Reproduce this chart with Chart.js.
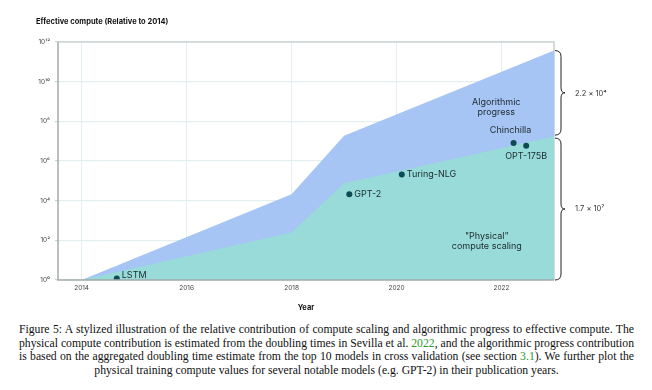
<!DOCTYPE html>
<html>
<head>
<meta charset="utf-8">
<script src="https://cdn.jsdelivr.net/npm/chart.js@4/dist/chart.umd.min.js"></script>
<style>
  body { margin: 0; background: #fff; width: 652px; height: 390px; overflow: hidden; position: relative; }
  #wrap { position: absolute; left: 0; top: 0; width: 652px; height: 316px; }
  #caption { position: absolute; left: 19px; top: 323px; width: 615px;
             font-family: "Liberation Serif", "Times New Roman", serif; font-size: 11.7px; line-height: 13.6px; color: #111; }
  #caption div { text-align: justify; text-align-last: justify; }
  #caption div.last { text-align: center; text-align-last: center; }
  .g { color: #2f9a2f; }
</style>
</head>
<body>
<div id="wrap"><canvas id="grafico"></canvas></div>
<div id="caption">
  <div>Figure 5: A stylized illustration of the relative contribution of compute scaling and algorithmic progress to effective compute. The</div>
  <div>physical compute contribution is estimated from the doubling times in Sevilla et al. <span class="g">2022</span>, and the algorithmic progress contribution</div>
  <div>is based on the aggregated doubling time estimate from the top 10 models in cross validation (see section <span class="g">3.1</span>). We further plot the</div>
  <div class="last">physical training compute values for several notable models (e.g. GPT-2) in their publication years.</div>
</div>
<script>
// Dados (escala log, relativo a 2014)
const anos = [2014, 2018, 2019, 2023];
const computeEfetivo = [1, 2.1e4, 1.9e7, 3.7e11];
const computeFisico = [1, 250, 7.6e4, 1.7e7];

const modelos = ["LSTM", "GPT-2", "Turing-NLG", "Chinchilla", "OPT-175B"];
const anosModelos = [2014.67, 2019.1, 2020.1, 2022.23, 2022.47];
const computeModelos = [1.2, 2.1e4, 2.1e5, 8.1e6, 5.9e6];

const anosTicks = [2014, 2016, 2018, 2020, 2022];
const ticksY = [1, 1e2, 1e4, 1e6, 1e8, 1e10, 1e12];
const rotulosY = ["10⁰", "10²", "10⁴", "10⁶", "10⁸", "10¹⁰", "10¹²"];

const rotuloAlgoritmo = ["Algorithmic", "progress"];
const rotuloFisico = ["\"Physical\"", "compute scaling"];
const rotulosChaves = ["2.2 × 10⁴", "1.7 × 10⁷"];

const fonte = "Inter, 'Noto Sans', sans-serif";

// desenha a chave "}" vertical
function chave(ctx, x, y1, y2) {
    const m = (y1 + y2) / 2;
    ctx.beginPath();
    ctx.moveTo(x, y1);
    ctx.quadraticCurveTo(x + 6, y1, x + 6, y1 + 6);
    ctx.lineTo(x + 6, m - 5);
    ctx.quadraticCurveTo(x + 6, m, x + 10, m);
    ctx.quadraticCurveTo(x + 6, m, x + 6, m + 5);
    ctx.lineTo(x + 6, y2 - 6);
    ctx.quadraticCurveTo(x + 6, y2, x, y2);
    ctx.stroke();
}

const extras = {
    id: 'extras',
    beforeDatasetsDraw(chart) {
        const ctx = chart.ctx, a = chart.chartArea;
        ctx.save();
        ctx.strokeStyle = '#b9c4c4';
        ctx.lineWidth = 1.2;
        ctx.beginPath();
        ctx.moveTo(a.left, a.top); ctx.lineTo(a.right, a.top); ctx.lineTo(a.right, a.bottom);
        ctx.stroke();
        ctx.restore();
    },
    afterDatasetsDraw(chart) {
        const ctx = chart.ctx, a = chart.chartArea;
        const x = chart.scales.x, y = chart.scales.y;
        ctx.save();
        // eixos esquerdo e inferior
        ctx.strokeStyle = '#a3abab';
        ctx.lineWidth = 1.5;
        ctx.beginPath();
        ctx.moveTo(a.left, a.top); ctx.lineTo(a.left, a.bottom); ctx.lineTo(a.right, a.bottom);
        ctx.stroke();

        // títulos
        ctx.fillStyle = '#111';
        ctx.font = "bold 7.5px " + fonte;
        ctx.textBaseline = 'middle';
        ctx.textAlign = 'left';
        ctx.fillText("Effective compute (Relative to 2014)", 36, 22);
        ctx.textAlign = 'center';
        ctx.fillText("Year", (a.left + a.right) / 2, 308);

        // rótulos dos modelos
        ctx.font = "9px " + fonte;
        ctx.fillStyle = '#1c2a2e';
        modelos.forEach((nome, i) => {
            const px = x.getPixelForValue(anosModelos[i]);
            const py = y.getPixelForValue(computeModelos[i]);
            if (nome === "Chinchilla") {
                ctx.textAlign = 'center'; ctx.fillText(nome, px - 3, py - 13);
            } else if (nome === "OPT-175B") {
                ctx.textAlign = 'center'; ctx.fillText(nome, px, py + 11);
            } else if (nome === "LSTM") {
                ctx.textAlign = 'left'; ctx.fillText(nome, px + 5, py - 3);
            } else {
                ctx.textAlign = 'left'; ctx.fillText(nome, px + 5, py);
            }
        });

        // rótulos das áreas
        ctx.textAlign = 'center';
        let cx = x.getPixelForValue(2021.9), cy = y.getPixelForValue(5e8);
        ctx.fillText(rotuloAlgoritmo[0], cx, cy - 5);
        ctx.fillText(rotuloAlgoritmo[1], cx, cy + 5);
        cx = x.getPixelForValue(2021.72); cy = y.getPixelForValue(93);
        ctx.fillText(rotuloFisico[0], cx, cy - 5);
        ctx.fillText(rotuloFisico[1], cx, cy + 5);

        // chaves à direita
        const n = anos.length - 1;
        const yTopo = y.getPixelForValue(computeEfetivo[n]);
        const yMeio = y.getPixelForValue(computeFisico[n]);
        ctx.strokeStyle = '#222';
        ctx.lineWidth = 1;
        chave(ctx, a.right + 1, yTopo, yMeio - 1.5);
        chave(ctx, a.right + 1, yMeio + 1.5, a.bottom);
        ctx.font = "7.5px " + fonte;
        ctx.fillStyle = '#333';
        ctx.textAlign = 'left';
        ctx.fillText(rotulosChaves[0], a.right + 21, (yTopo + yMeio) / 2);
        ctx.fillText(rotulosChaves[1], a.right + 21, (yMeio + a.bottom) / 2);
        ctx.restore();
    }
};

const ctx = document.getElementById("grafico").getContext("2d");
const chart = new Chart(ctx, {
    type: 'line',
    data: {
        datasets: [{
            label: "Effective compute",
            data: anos.map((a, i) => ({ x: a, y: computeEfetivo[i] })),
            backgroundColor: '#a6c4f4',
            borderWidth: 0,
            pointRadius: 0,
            fill: 'start',
            order: 3
        }, {
            label: "Physical compute",
            data: anos.map((a, i) => ({ x: a, y: computeFisico[i] })),
            backgroundColor: '#98dbd8',
            borderWidth: 0,
            pointRadius: 0,
            fill: 'start',
            order: 2
        }, {
            type: 'scatter',
            label: "Modelos",
            data: anosModelos.map((a, i) => ({ x: a, y: computeModelos[i] })),
            backgroundColor: '#0e4b55',
            borderWidth: 0,
            pointRadius: 3,
            order: 1
        }]
    },
    options: {
        responsive: true,
        maintainAspectRatio: false,
        animation: false,
        layout: { padding: { left: 0, right: 98, top: 42, bottom: 0 } },
        plugins: { legend: { display: false }, tooltip: { enabled: false } },
        scales: {
            x: {
                type: 'linear',
                min: 2013.55,
                max: 2023,
                afterBuildTicks: s => { s.ticks = anosTicks.map(v => ({ value: v })); },
                afterFit: s => { s.height = 36; },
                ticks: {
                    callback: v => String(v),
                    font: { family: fonte, size: 6.5 },
                    color: '#444',
                    padding: 4,
                    maxRotation: 0
                },
                grid: { color: '#e4efef', lineWidth: 1, drawTicks: false },
                border: { display: false }
            },
            y: {
                type: 'logarithmic',
                min: 1,
                max: 1e12,
                afterBuildTicks: s => { s.ticks = ticksY.map(v => ({ value: v })); },
                afterFit: s => { s.width = 58; },
                ticks: {
                    callback: (v) => rotulosY[ticksY.indexOf(v)],
                    font: { family: fonte, size: 6.5 },
                    color: '#444',
                    padding: 5
                },
                grid: { color: '#e4efef', lineWidth: 1.2, drawTicks: true, tickLength: 3, tickColor: '#c9d4d4' },
                border: { display: false }
            }
        }
    },
    plugins: [extras]
});
</script>
</body>
</html>
